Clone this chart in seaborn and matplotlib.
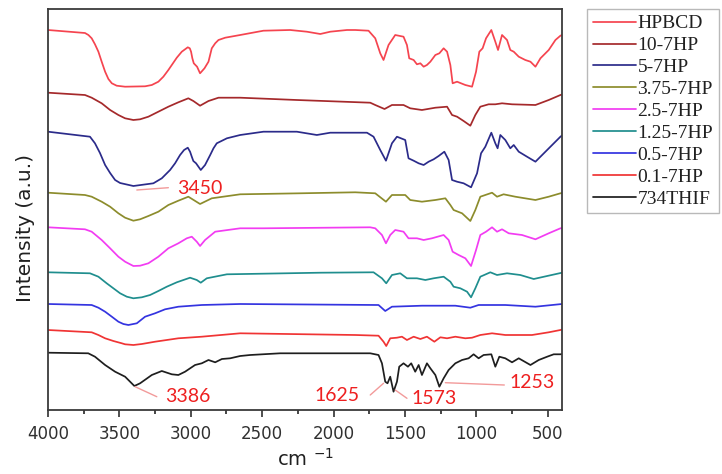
import numpy as np
import pandas as pd
import matplotlib
matplotlib.use("Agg")
import matplotlib.pyplot as plt
from matplotlib.ticker import MultipleLocator
import seaborn as sns

# ---------------- data (wavenumber cm-1, intensity a.u.) ----------------
hpbcd_wn = [4000, 3741, 3717, 3694, 3671, 3647, 3624, 3600, 3577, 3553, 3519, 3460, 3320, 3273, 3227, 3192,
            3157, 3133, 3098, 3063, 3021, 3007, 2998, 2989, 2979, 2956, 2935, 2904, 2876, 2853, 2829, 2806,
            2759, 2654, 2491, 2304, 2187, 2093, 2023, 1906, 1848, 1755, 1708, 1673, 1650,
            1615, 1568, 1510, 1486, 1470, 1439, 1416, 1392, 1369, 1346, 1322, 1287, 1259, 1229, 1205, 1182,
            1166, 1135, 1077, 1030, 1002, 979, 956, 932, 895, 867, 848, 820, 785, 762, 738, 703, 657, 621,
            586, 551, 493, 446, 411, 400]
hpbcd_au = [380, 377, 375, 371.7, 365.7, 358.3, 348.3, 338.3, 331, 326.7, 324.3, 323.3, 323.7, 325, 328.3, 333.3,
            340, 345, 352.3, 358.3, 362.7, 361.7, 358.3, 351.7, 346.7, 343.3, 336.7, 341.7, 348.3, 361.7, 366.7, 370,
            372.3, 375, 379.3, 380, 378.3, 376, 378.3, 380, 380, 379.3, 371.7, 356.7, 350,
            365, 375, 373.3, 365, 351.7, 350, 345.7, 346.7, 343.3, 345, 348.3, 355, 356.7, 361.7, 358.3, 345,
            326.7, 328.3, 325, 323.3, 338.3, 358.3, 361.7, 371.7, 380, 368.3, 360, 375, 370, 360, 358.3, 353.3, 350, 348.3,
            343.3, 351.7, 360, 370, 374.3, 375]

hp10_wn = [4000, 3741, 3694, 3624, 3565, 3507, 3460, 3402, 3355, 3297, 3227, 3157, 3087, 3017, 2982, 2935,
           2876, 2806, 2654, 2257, 1743, 1708,
           1643, 1591, 1510, 1463, 1381, 1287, 1205, 1170, 1135, 1089, 1042, 1007, 972, 914, 867, 820, 750,
           586, 493, 411, 400]
hp10_au = [317.3, 315, 312.3, 306.7, 300, 295, 291.7, 290, 290.7, 293.3, 298.3, 303.3, 307.7, 311.7, 309, 304.3,
           309, 312.3, 312.3, 310, 307.3, 305,
           301, 305, 305, 301.7, 300, 302.3, 303.3, 295, 293.3, 289, 284.3, 295, 303.3, 305.7, 305.7, 306.7, 305.7,
           305, 310, 315, 315.5]

hp5_wn = [4000, 3706, 3671, 3636, 3600, 3565, 3530, 3495, 3402, 3262, 3203, 3145, 3110, 3075, 3047, 3021,
          3005, 2993, 2982, 2963, 2930, 2900, 2864, 2841, 2818, 2747,
          2654, 2491, 2257, 2117, 2023, 1766, 1720, 1673, 1633, 1591, 1556, 1498, 1475, 1439, 1404, 1369,
          1334, 1299, 1264, 1224, 1194, 1170, 1135, 1089, 1037, 995, 967, 937, 895, 867, 851, 832, 797, 762,
          738, 703, 645, 586, 551, 481, 411, 400]
hp5_au = [278.3, 273.3, 266.7, 257, 245, 237, 230, 227, 224, 226.7, 231.7, 240, 246.7, 255, 260, 262.3,
          258.3, 253.3, 249, 246.7, 240, 245, 255, 261.7, 266.7, 271.7,
          275, 278.3, 278.3, 275, 277.3, 277.3, 273.3, 260, 249.3, 266.7, 273.3, 270, 251.7, 249.3, 246.7, 245,
          248.3, 250.7, 254, 258.3, 250, 230, 228.3, 226.7, 222.7, 236.7, 256.7, 263.3, 277.3, 266.7, 261.7, 275, 270, 261.7,
          265, 258.3, 253.3, 248.3, 253.3, 263.3, 273.3, 274.5]

hp375_wn = [4000, 3741, 3694, 3624, 3565, 3507, 3460, 3402, 3355, 3297, 3227, 3157, 3087, 3017, 2935, 2853,
            2654, 2234, 1848, 1708, 1633, 1591,
            1498, 1463, 1381, 1287, 1217, 1182, 1159, 1100, 1042, 1007, 972, 890, 855, 809, 727, 586, 493, 411, 400]
hp375_au = [217.3, 215, 213.3, 208.3, 203.3, 196.7, 192.3, 189.3, 190.7, 194, 198.3, 205, 209.3, 213.3, 206, 211.7,
            215.7, 216.7, 217.7, 216.7, 208.3, 215,
            215, 210, 208.3, 210, 211.7, 205, 200, 196.7, 189, 200, 213.3, 217.3, 213.3, 215.7, 213.3, 210, 213.3, 216.7, 217]

hp25_wn = [4000, 3741, 3694, 3624, 3565, 3507, 3460, 3402, 3355, 3297, 3227, 3157, 3087, 3028, 2993, 2958,
           2935, 2900, 2829, 2654, 2491, 1743,
           1708, 1661, 1633, 1603, 1568, 1510, 1475, 1416, 1369, 1311, 1229, 1194, 1166, 1124, 1077, 1037,
           1002, 972, 932, 890, 855, 820, 773, 680, 586, 493, 411, 400]
hp25_au = [182.7, 180.7, 178.3, 170, 161.7, 153.3, 148.3, 144, 144.3, 146.7, 153.3, 161.7, 166.7, 171.7, 173.3, 168.3,
           164, 170, 178.3, 181.7, 181.7, 182.7,
           181.7, 175, 166.7, 175, 180, 178.3, 171.7, 171.7, 170, 171.7, 175, 170, 158.3, 155, 151.7, 144,
           160, 175, 178.3, 182.7, 178.3, 180.7, 176.7, 175, 170.7, 176.7, 181.7, 182]

hp125_wn = [4000, 3706, 3647, 3589, 3542, 3495, 3448, 3402, 3343, 3285, 3227, 3168, 3098, 3005, 2958, 2930,
            2888, 2747, 2093, 1720, 1661, 1631,
            1591, 1533, 1486, 1416, 1357, 1299, 1229, 1182, 1159, 1112, 1065, 1037, 1007, 972, 902, 855, 785,
            692, 598, 504, 400]
hp125_au = [137.7, 136.7, 133.3, 126.7, 121.7, 116.7, 113.3, 111.7, 112.7, 115, 119, 123.3, 127.7, 132.3, 130, 127.3,
            131.7, 135.7, 137.3, 137.7, 131.7, 126.7,
            135, 136.7, 131.7, 131.7, 130, 131.7, 133.3, 128.3, 123.3, 121.7, 118.3, 112.7, 121.7, 133.3, 137.7, 135, 136.7,
            135, 131, 134, 137.3]

hp05_wn = [4000, 3694, 3647, 3600, 3553, 3507, 3472, 3437, 3378, 3320, 3250, 3180, 3087, 2923, 2654, 1685,
           1638, 1591, 1381, 1147, 1042, 984, 797, 586, 400]
hp05_au = [106, 105, 102.3, 98.3, 93.3, 88.3, 86, 85, 86.7, 93.3, 96.7, 100.7, 103.3, 105, 106, 105,
           99, 103.3, 104.3, 104.3, 102.3, 105, 105, 103.3, 106]

hp01_wn = [4000, 3694, 3647, 3600, 3542, 3483, 3460, 3402, 3343, 3250, 3087, 2923, 2654, 1848, 1685, 1650,
           1631, 1603, 1556, 1521, 1486, 1439, 1392, 1346, 1294, 1252, 1205, 1147, 1077, 1030, 972, 890, 797,
           610, 493, 411, 400]
hp01_au = [80, 77.7, 75, 71.7, 69, 66.7, 65.7, 65, 66, 68.3, 71.7, 73.3, 76.7, 75, 74.3, 68.3,
           64, 71.7, 72.3, 73.3, 70, 73.3, 71, 73.3, 68.3, 72.7, 71.7, 73.3, 71.7, 72.3, 75, 76.7, 75,
           75, 77.7, 80, 80.5]

thif_wn = [4000, 3718, 3671, 3600, 3530, 3460, 3395, 3355, 3273, 3203, 3133, 3087, 3040, 2970, 2923, 2876,
           2829, 2782, 2724, 2654, 2584, 2374, 1743, 1685, 1661, 1638, 1622, 1603, 1580, 1556, 1540, 1510,
           1479, 1456, 1428, 1404, 1381, 1346, 1322, 1287, 1259, 1229, 1194, 1147, 1100, 1054, 1019, 984,
           949, 895, 867, 839, 797, 750, 703, 621, 563, 504, 458, 411, 400]
thif_au = [57.3, 56.7, 53.3, 45, 38.3, 33.3, 24, 26.7, 35, 39, 35.7, 35, 38.3, 45, 46.7, 50,
           47.7, 51, 51.7, 54, 55, 56.7, 56.7, 55, 46.7, 28.3, 26.7, 33.3, 18.3, 28.3, 43.3, 46.7,
           43.3, 46.7, 38.3, 45, 35, 46.7, 41.7, 35, 23.3, 31.7, 40, 46.7, 50, 51.7, 55.7, 51.7,
           55, 55.7, 43.3, 53.3, 51.7, 47.7, 51.7, 45, 50, 53.3, 55.7, 55.7, 56]

sample_names = ["HPBCD", "10-7HP", "5-7HP", "3.75-7HP", "2.5-7HP", "1.25-7HP", "0.5-7HP", "0.1-7HP", "734THIF"]
peak_labels = ["3450", "3386", "1625", "1573", "1253"]

# ---------------- styling ----------------
colors = ["#F5444F", "#A5292B", "#2B2B8A", "#8C8C2C", "#F23CF2", "#1F8E8E", "#3434E0", "#F03434", "#1E1E1E"]
series = [(hpbcd_wn, hpbcd_au), (hp10_wn, hp10_au), (hp5_wn, hp5_au), (hp375_wn, hp375_au),
          (hp25_wn, hp25_au), (hp125_wn, hp125_au), (hp05_wn, hp05_au), (hp01_wn, hp01_au), (thif_wn, thif_au)]

sns.set_theme(style="white")
plt.rcParams["font.family"] = ["DejaVu Sans"]
plt.rcParams["lines.solid_joinstyle"] = "round"

fig = plt.figure(figsize=(7.22, 4.74), dpi=100)
ax = fig.add_axes([48 / 722, 1 - 410 / 474, (562 - 48) / 722, (410 - 9) / 474])

for name, (wn, au), col in zip(sample_names, series, colors):
    df = pd.DataFrame({"wn": wn, "au": au})
    sns.lineplot(data=df, x="wn", y="au", ax=ax, color=col, lw=1.25, label=name,
                 sort=False, estimator=None)

ax.set_xlim(4000, 400)
ax.set_ylim(0, 401)
ax.set_yticks([])
ax.xaxis.set_major_locator(MultipleLocator(500))
ax.xaxis.set_minor_locator(MultipleLocator(250))
ax.tick_params(axis="x", which="major", direction="out", length=5, width=1.2, bottom=True, top=False,
               pad=6, labelsize=12, colors="#303030")
ax.tick_params(axis="x", which="minor", direction="out", length=3, width=1.2, bottom=True, top=False)
ax.tick_params(axis="y", left=False, labelleft=False)
for sp in ax.spines.values():
    sp.set_visible(True)
    sp.set_color("#3A3A3A")
    sp.set_linewidth(1.3)

ax.set_xlabel(r"cm $^{\mathregular{-1}}$", fontsize=14, color="#202020")
ax.xaxis.set_label_coords(0.5, -0.095)
ax.xaxis.label.set_verticalalignment("top")
ax.set_ylabel("Intensity (a.u.)", fontsize=14.5, color="#202020")
ax.yaxis.set_label_coords(-0.026, 0.455)

# peak annotations
ann_text_pos = [(3096, 222), (3180, 13.3), (2135, 14.2), (1456, 11.2), (769, 28)]
ann_lines = [((3378, 220), (3157, 222.3)), ((3390, 23.3), (3238, 13.3)), ((1743, 15), (1650, 26.7)),
             ((1568, 20), (1486, 11.7)), ((1217, 27.3), (804, 25))]
for lab, (tx, ty), ((x0, y0), (x1, y1)) in zip(peak_labels, ann_text_pos, ann_lines):
    ax.plot([x0, x1], [y0, y1], color="#F29A9A", lw=1.0)
    ax.text(tx, ty, lab, color="#EE2020", fontsize=14, family=["Lato", "DejaVu Sans"],
            ha="left", va="center")

# legend
handles, labels = ax.get_legend_handles_labels()
ax.get_legend().remove()
leg = fig.legend(handles, labels, loc="upper left", bbox_to_anchor=(587 / 722, 1 - 9 / 474),
                 bbox_transform=fig.transFigure, borderaxespad=0, frameon=True, fancybox=False,
                 prop={"family": ["Liberation Serif", "DejaVu Serif"], "size": 14},
                 handlelength=2.2, handletextpad=0.1, labelspacing=0.22, borderpad=0.3)
leg.get_frame().set_edgecolor("#A8A8A8")
leg.get_frame().set_linewidth(1.0)
for t in leg.get_texts():
    t.set_color("#202020")

fig.savefig("out.png", dpi=100)
